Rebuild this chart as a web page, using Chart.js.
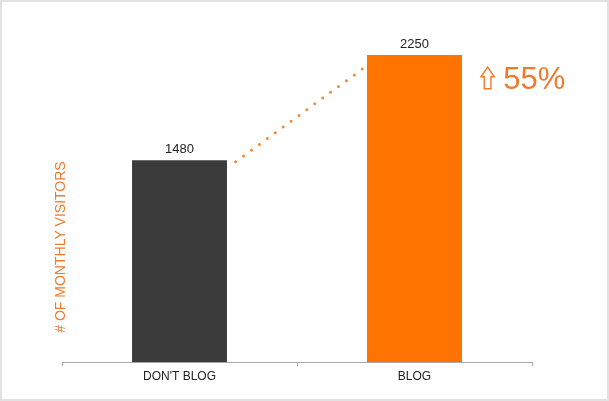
<!DOCTYPE html>
<html>
<head>
<meta charset="utf-8">
<script src="https://cdn.jsdelivr.net/npm/chart.js@4.4.1/dist/chart.umd.min.js"></script>
<style>
  html, body { margin: 0; padding: 0; background: #fff; }
  #wrap { width: 609px; height: 401px; }
</style>
</head>
<body>
<div id="wrap"><canvas id="blogChart" width="609" height="401"></canvas></div>
<script>
// chart data
const categories = ["DON'T BLOG", 'BLOG'];
const visitors = [1480, 2250];
const connectorValues = [1468, 2148]; // dotted line: start / end value
const growthLabel = '55%';
const axisTitle = '# OF MONTHLY VISITORS';
const yMax = 2500;

const ORANGE = '#ff7300';
const TEXT_ORANGE = '#ef7a2c';

// frame, axis title, value labels, dotted connector and the growth note
const decorations = {
  id: 'decorations',
  afterDatasetsDraw(chart) {
    const ctx = chart.ctx;
    const y = chart.scales.y;
    const bars = chart.getDatasetMeta(0).data;

    ctx.save();

    // value labels on top of bars
    ctx.fillStyle = '#222';
    ctx.font = '13px "Liberation Sans", Arial, sans-serif';
    ctx.textAlign = 'center';
    ctx.textBaseline = 'alphabetic';
    bars.forEach((bar, i) => {
      ctx.fillText(String(visitors[i]), bar.x, bar.y - 7);
    });

    // dotted connector between the bars
    const b0 = bars[0], b1 = bars[1];
    const x0 = b0.x + b0.width / 2 + 8.7;
    const x1 = b1.x - b1.width / 2 - 4.7;
    ctx.beginPath();
    ctx.setLineDash([0, 9.8]);
    ctx.lineCap = 'round';
    ctx.lineWidth = 3;
    ctx.strokeStyle = '#f08a3c';
    ctx.moveTo(x0, y.getPixelForValue(connectorValues[0]));
    ctx.lineTo(x1, y.getPixelForValue(connectorValues[1]));
    ctx.stroke();
    ctx.setLineDash([]);

    // outline up arrow + percentage
    const ax = b1.x + b1.width / 2 + 19;
    const ay = b1.y + 12;
    ctx.beginPath();
    ctx.moveTo(ax + 6.7, ay);
    ctx.lineTo(ax + 13.3, ay + 9.7);
    ctx.lineTo(ax + 10, ay + 9.7);
    ctx.lineTo(ax + 10, ay + 21.7);
    ctx.lineTo(ax + 3.3, ay + 21.7);
    ctx.lineTo(ax + 3.3, ay + 9.7);
    ctx.lineTo(ax, ay + 9.7);
    ctx.closePath();
    ctx.lineWidth = 1.4;
    ctx.lineJoin = 'miter';
    ctx.strokeStyle = TEXT_ORANGE;
    ctx.stroke();

    ctx.fillStyle = TEXT_ORANGE;
    ctx.font = '31px "Liberation Sans", Arial, sans-serif';
    ctx.textAlign = 'left';
    ctx.fillText(growthLabel, ax + 22.3, b1.y + 34);

    // rotated axis title
    ctx.translate(61, 247);
    ctx.rotate(-Math.PI / 2);
    ctx.font = '14px "Liberation Sans", Arial, sans-serif';
    ctx.textAlign = 'center';
    ctx.textBaseline = 'middle';
    ctx.fillText(axisTitle, 0, 0);
    ctx.restore();

    // light frame around the picture
    ctx.save();
    ctx.strokeStyle = '#e2e2e2';
    ctx.lineWidth = 2;
    ctx.strokeRect(1, 1, chart.width - 2, chart.height - 2);
    ctx.restore();
  }
};

new Chart(document.getElementById('blogChart'), {
  type: 'bar',
  data: {
    labels: categories,
    datasets: [{
      data: visitors,
      backgroundColor: ['#3b3b3b', ORANGE],
      borderWidth: 0,
      barPercentage: 0.404,
      categoryPercentage: 1
    }]
  },
  options: {
    responsive: false,
    animation: false,
    devicePixelRatio: 1,
    layout: { padding: { left: 62, right: 77, top: 21, bottom: 9 } },
    plugins: {
      legend: { display: false },
      title: { display: false },
      tooltip: { enabled: false }
    },
    scales: {
      x: {
        afterFit(scale) { scale.height = 30; },
        grid: {
          drawOnChartArea: false,
          drawTicks: true,
          tickLength: 4,
          color: '#a8a8a8',
          offset: true
        },
        border: { display: true, color: '#a8a8a8', width: 1 },
        ticks: {
          color: '#222',
          padding: 3,
          font: { family: '"Liberation Sans", Arial, sans-serif', size: 12 }
        }
      },
      y: {
        display: false,
        min: 0,
        max: yMax
      }
    }
  },
  plugins: [decorations]
});
</script>
</body>
</html>
